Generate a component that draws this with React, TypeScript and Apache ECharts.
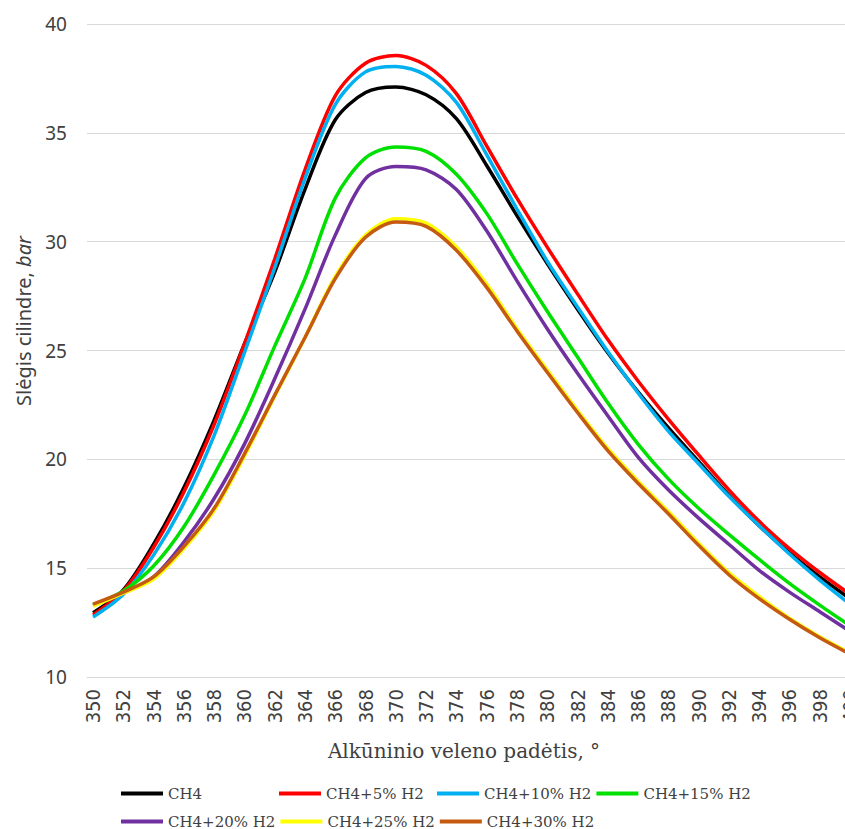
import React, { useEffect, useRef } from "react";
import * as echarts from "echarts";

const degrees = [350, 352, 354, 356, 358, 360, 362, 364, 366, 368, 370, 372, 374, 376, 378, 380, 382, 384, 386, 388, 390, 392, 394, 396, 398, 400];
const xTickLabels = degrees;
const yTicks = [10, 15, 20, 25, 30, 35, 40];

const seriesNames = ["CH4", "CH4+5% H2", "CH4+10% H2", "CH4+15% H2", "CH4+20% H2", "CH4+25% H2", "CH4+30% H2"];
const seriesColors = ["#000000", "#ff0000", "#00b0f0", "#00e000", "#7030a0", "#ffff00", "#c55a11"];

const ch4 = [12.95, 14.0, 16.1, 18.7, 21.8, 25.3, 28.6, 32.4, 35.6, 36.85, 37.1, 36.75, 35.65, 33.5, 31.2, 29.0, 26.9, 24.9, 23.1, 21.45, 19.9, 18.35, 16.95, 15.7, 14.6, 13.6];
const h5 = [12.85, 13.95, 15.95, 18.5, 21.6, 25.3, 29.2, 33.3, 36.7, 38.2, 38.55, 38.1, 36.8, 34.4, 32.0, 29.75, 27.6, 25.5, 23.6, 21.85, 20.2, 18.6, 17.15, 15.9, 14.8, 13.8];
const h10 = [12.75, 13.8, 15.6, 18.0, 21.1, 24.9, 28.8, 32.9, 36.3, 37.8, 38.05, 37.65, 36.4, 34.0, 31.5, 29.1, 27.0, 24.95, 23.05, 21.3, 19.8, 18.3, 16.95, 15.65, 14.45, 13.35];
const h15 = [13.3, 13.95, 15.1, 16.9, 19.3, 22.0, 25.2, 28.3, 32.0, 33.85, 34.35, 34.15, 33.1, 31.3, 29.0, 26.8, 24.7, 22.6, 20.7, 19.1, 17.75, 16.55, 15.4, 14.3, 13.3, 12.35];
const h20 = [13.3, 13.85, 14.6, 16.2, 18.2, 20.7, 23.7, 26.9, 30.3, 32.9, 33.45, 33.3, 32.4, 30.5, 28.2, 26.0, 23.95, 22.0, 20.1, 18.6, 17.3, 16.1, 14.9, 13.9, 13.0, 12.1];
const h25 = [13.25, 13.85, 14.5, 15.9, 17.65, 20.15, 22.9, 25.6, 28.4, 30.3, 31.05, 30.85, 29.75, 28.05, 26.0, 24.1, 22.25, 20.5, 19.0, 17.6, 16.15, 14.8, 13.7, 12.7, 11.85, 11.1];
const h30 = [13.35, 13.9, 14.6, 16.0, 17.75, 20.25, 22.95, 25.6, 28.3, 30.2, 30.9, 30.7, 29.6, 27.9, 25.9, 24.0, 22.15, 20.4, 18.9, 17.5, 16.05, 14.7, 13.6, 12.65, 11.8, 11.05];

const allSeries = [ch4, h5, h10, h15, h20, h25, h30];

const textColor = "#404040";
const gridColor = "#d9d9d9";

const legendBase = {
  left: 121,
  orient: "horizontal",
  icon: "rect",
  itemWidth: 42,
  itemHeight: 4,
  itemGap: 5,
  padding: 0,
  textStyle: {
    color: textColor,
    fontFamily: "'DejaVu Serif', serif",
    fontSize: 15,
    width: 106,
    lineHeight: 14,
  },
};

export default function App() {
  const ref = useRef<HTMLDivElement>(null);

  useEffect(() => {
    if (!ref.current) return;
    const chart = echarts.init(ref.current, undefined, { renderer: "svg" });
    const option: any = {
      animation: false,
      backgroundColor: "#ffffff",
      grid: {
        left: 87,
        top: 24,
        width: 763,
        height: 653,
        containLabel: false,
        outerBoundsMode: "none",
      },
      xAxis: {
        type: "value",
        min: 349.6,
        max: 400,
        axisLine: { show: true, lineStyle: { color: gridColor, width: 1 } },
        axisTick: { show: false },
        splitLine: { show: false },
        axisLabel: {
          customValues: xTickLabels,
          rotate: 90,
          margin: 12,
          color: textColor,
          fontFamily: "'Liberation Sans Narrow', 'DejaVu Sans Condensed', 'Liberation Sans', sans-serif",
          fontSize: 20,
          formatter: (v: number) => String(Math.round(v)),
        },
      },
      yAxis: {
        type: "value",
        min: yTicks[0],
        max: yTicks[yTicks.length - 1],
        interval: 5,
        axisLine: { show: false },
        axisTick: { show: false },
        splitLine: { show: true, lineStyle: { color: gridColor, width: 1 } },
        axisLabel: {
          margin: 20,
          color: textColor,
          fontFamily: "'Noto Sans', sans-serif",
          fontSize: 19,
        },
      },
      legend: [
        { ...legendBase, top: 786, data: seriesNames.slice(0, 4) },
        { ...legendBase, top: 814, data: seriesNames.slice(4) },
      ],
      graphic: [
        {
          type: "text",
          x: 23,
          y: 321,
          rotation: Math.PI / 2,
          style: {
            text: "{a|Slėgis cilindre, }{b|bar}",
            align: "center",
            verticalAlign: "middle",
            fill: textColor,
            rich: {
              a: { fontFamily: "'Noto Sans', sans-serif", fontSize: 20, fill: textColor },
              b: { fontFamily: "'Noto Sans', sans-serif", fontSize: 20, fontStyle: "italic", fill: textColor },
            },
          },
        },
        {
          type: "text",
          x: 464,
          y: 751,
          style: {
            text: "Alkūninio veleno padėtis, °",
            align: "center",
            verticalAlign: "middle",
            fill: textColor,
            fontFamily: "'DejaVu Serif', serif",
            fontSize: 20,
          },
        },
      ],
      series: allSeries.map((vals, i) => ({
        name: seriesNames[i],
        type: "line",
        smooth: 0.3,
        showSymbol: false,
        symbol: "none",
        color: seriesColors[i],
        lineStyle: { width: 3.5, color: seriesColors[i] },
        data: degrees.map((d, j) => [d, vals[j]]),
      })),
    };
    chart.setOption(option);
    return () => chart.dispose();
  }, []);

  return (
    <div
      ref={ref}
      style={{ position: "absolute", left: 0, top: 0, width: 845, height: 829 }}
    />
  );
}
